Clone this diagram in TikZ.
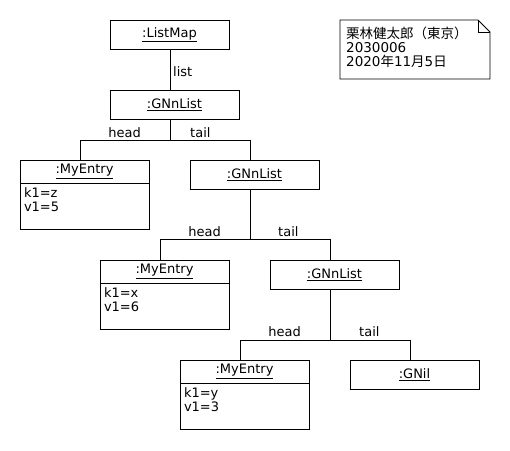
\documentclass[tikz,border=0pt]{standalone}
\usepackage{fontspec}
\setmainfont{DejaVu Sans}
\newfontfamily\jpfont{Noto Sans CJK JP}
\usetikzlibrary{positioning}
\tikzset{
  obj/.style={draw, line width=0.8pt, outer sep=0pt, minimum width=129pt, minimum height=29pt, inner sep=0pt, anchor=north west},
  objhead/.style={obj, minimum height=23pt},
  objbody/.style={draw, line width=0.8pt, outer sep=0pt, minimum width=129pt, minimum height=46pt, text width=121pt, inner xsep=4pt, inner ysep=0pt, align=left},
  link/.style={line width=0.8pt},
  role/.style={inner sep=0pt}
}
\begin{document}
\begin{tikzpicture}[x=1pt, y=-1pt, font=\fontsize{13}{14.5}\selectfont]
  \useasboundingbox (0,0) rectangle (510,450);

  \node[obj, minimum width=119pt] (lm) at (110,20) {\underline{:ListMap}};
  \node[obj] (gn1) at (110,90) {\underline{:GNnList}};
  \node[objhead] (me1) at (20,160) {\underline{:MyEntry}};
  \node[objbody, below=0pt of me1] (me1b) {k1=z\\v1=5\\[-2pt]~};
  \node[obj] (gn2) at (190,160) {\underline{:GNnList}};
  \node[objhead] (me2) at (100,260) {\underline{:MyEntry}};
  \node[objbody, below=0pt of me2] (me2b) {k1=x\\v1=6\\[-2pt]~};
  \node[obj] (gn3) at (270,260) {\underline{:GNnList}};
  \node[objhead] (me3) at (180,360) {\underline{:MyEntry}};
  \node[objbody, below=0pt of me3] (me3b) {k1=y\\v1=3\\[-2pt]~};
  \node[obj] (nil) at (350,360) {\underline{:GNil}};

  \draw[link] ([xshift=60pt]lm.south west) -- ([xshift=60pt]gn1.north west);
  \node[role, anchor=west] at (173,72) {list};

  \draw[link] ([xshift=60pt]gn1.south west) -- ++(0,21) coordinate (b1);
  \draw[link] (b1) -| ([xshift=60pt]me1.north west);
  \draw[link] (b1) -| ([xshift=60pt]gn2.north west);
  \node[role, anchor=base east] at (141,137) {head};
  \node[role, anchor=base west] at (190,137) {tail};

  \draw[link] ([xshift=60pt]gn2.south west) -- ++(0,50) coordinate (b2);
  \draw[link] (b2) -| ([xshift=60pt]me2.north west);
  \draw[link] (b2) -| ([xshift=60pt]gn3.north west);
  \node[role, anchor=base east] at (221,236) {head};
  \node[role, anchor=base west] at (278,236) {tail};

  \draw[link] ([xshift=60pt]gn3.south west) -- ++(0,51) coordinate (b3);
  \draw[link] (b3) -| ([xshift=60pt]me3.north west);
  \draw[link] (b3) -| ([xshift=60pt]nil.north west);
  \node[role, anchor=base east] at (301,336) {head};
  \node[role, anchor=base west] at (359,336) {tail};

  \draw[link] (340,20) -- (478,20) -- (490,32) -- (490,79) -- (340,79) -- cycle;
  \draw[link] (478,20) -- (478,32) -- (490,32);
  \node[anchor=north west, inner sep=2pt, align=left, font=\fontsize{13.5}{14}\selectfont] (nt) at (344,25)
    {{\jpfont 栗林健太郎（東京）}\\2030006\\2020{\jpfont 年}11{\jpfont 月}5{\jpfont 日}};
\end{tikzpicture}
\end{document}
